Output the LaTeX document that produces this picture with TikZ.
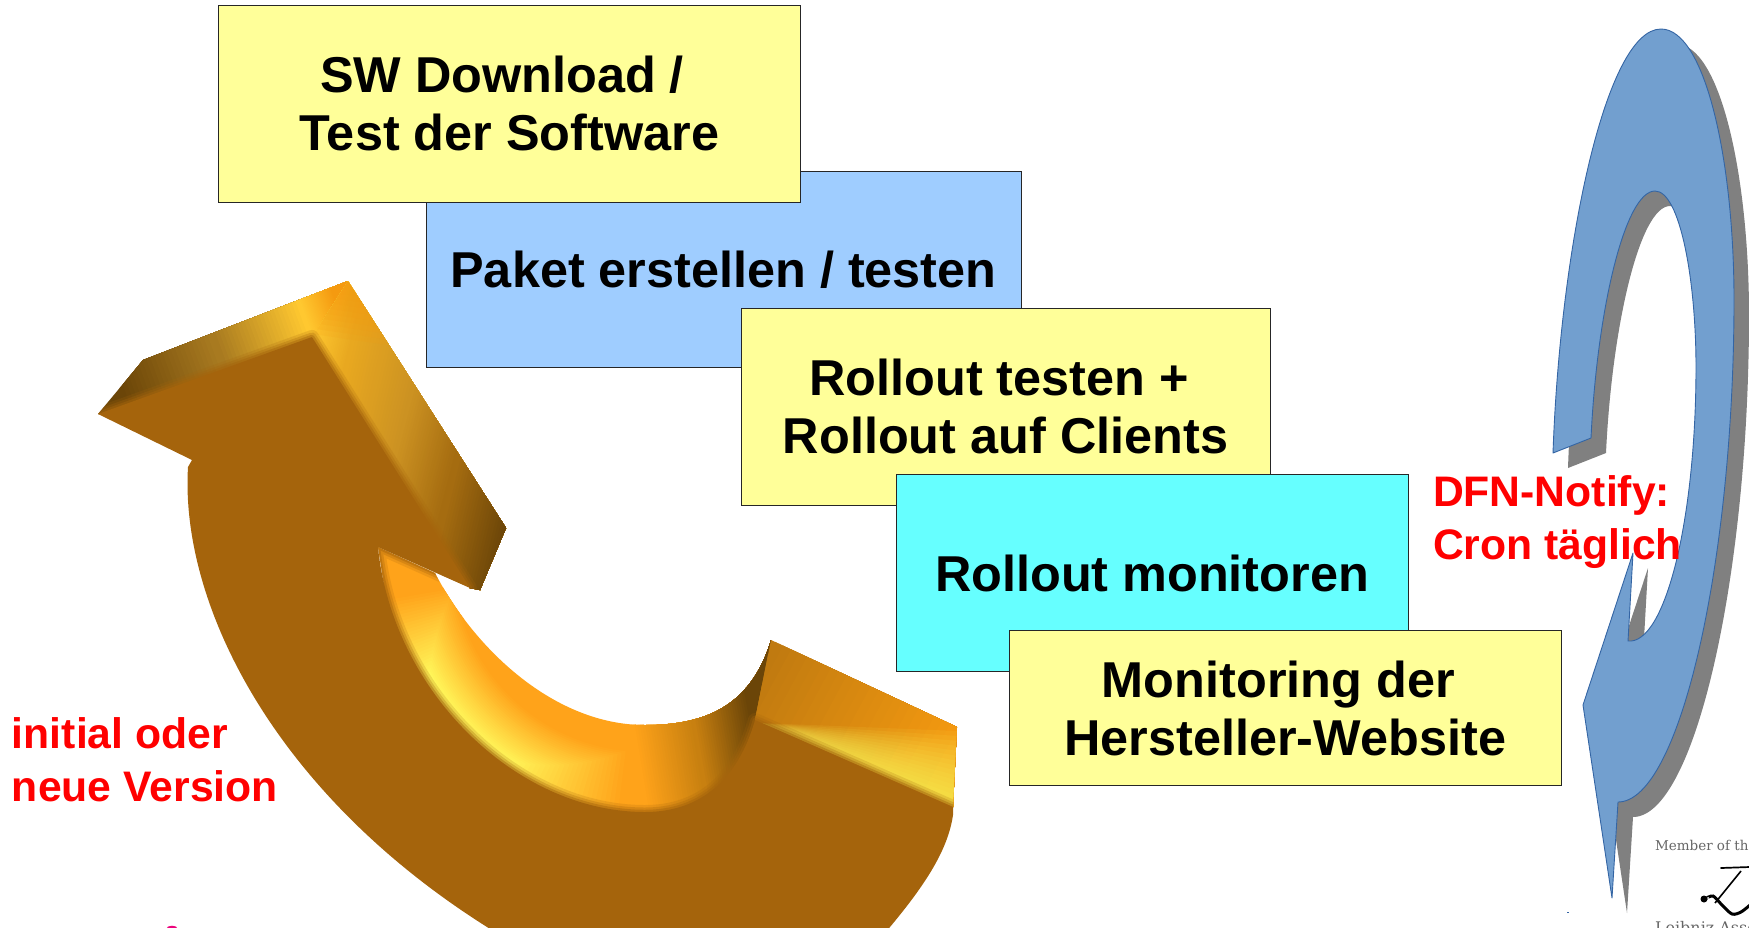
\documentclass[tikz,border=0pt]{standalone}
\usepackage{fontspec}
\setmainfont{Liberation Sans}
\newfontfamily\logoserif{DejaVu Serif}
\definecolor{boxyellow}{HTML}{FFFF99}
\definecolor{boxblue}{HTML}{9FCDFF}
\definecolor{boxcyan}{HTML}{66FFFF}
\definecolor{bluefill}{HTML}{729FCF}
\definecolor{blueline}{HTML}{3465A4}
\definecolor{shadowgrey}{HTML}{808080}
\definecolor{frontbrown}{HTML}{A5640C}
\definecolor{darkbrown}{HTML}{6B4508}
\definecolor{midbrown}{HTML}{A87A20}
\definecolor{gold}{HTML}{FFC830}
\definecolor{orangeA}{HTML}{F59A10}
\definecolor{orangeB}{HTML}{FFA31A}
\definecolor{orangeC}{HTML}{C88010}
\definecolor{yellowhi}{HTML}{FFFF60}
\definecolor{goldB}{HTML}{E8A820}
\definecolor{goldC}{HTML}{CC9222}
\definecolor{brownB}{HTML}{A56C10}
\definecolor{brownC}{HTML}{C07A10}
\definecolor{redtext}{HTML}{FF0000}
\newcommand\boxlines[2]{\raisebox{#1}[0pt][0pt]{\fontsize{50.4}{58}\selectfont\bfseries\begin{tabular}[t]{@{}c@{}}#2\end{tabular}}}
\newcommand\redlines[1]{\raisebox{0pt}[0pt][0pt]{\fontsize{42.7}{53}\selectfont\bfseries\color{redtext}\begin{tabular}[t]{@{}l@{}}#1\end{tabular}}}
% half-plane painted gradient from point a to point b
\newcommand\gradband[6]{%
  \pgfmathsetmacro\gdx{#3-#1}\pgfmathsetmacro\gdy{#4-#2}
  \pgfmathsetmacro\gdl{veclen(\gdx,\gdy)}
  \pgfmathsetmacro\gux{\gdx/\gdl}\pgfmathsetmacro\guy{\gdy/\gdl}
  \foreach \i in {0,...,23}{
    \pgfmathsetmacro\gt{\i/24}
    \pgfmathsetmacro\gm{100*\i/23}
    \pgfmathsetmacro\gpx{#1+\gt*\gdx}
    \pgfmathsetmacro\gpy{#2+\gt*\gdy}
    \colorlet{gc}{#6!\gm!#5}
    \fill[gc] ({\gpx-900*\guy},{\gpy+900*\gux}) -- ({\gpx+900*\guy},{\gpy-900*\gux})
      -- ({\gpx+900*\guy+900*\gux},{\gpy-900*\gux+900*\guy})
      -- ({\gpx-900*\guy+900*\gux},{\gpy+900*\gux+900*\guy}) -- cycle;
  }}
\def\bluepath{(1553,453) .. controls (1560,250) and (1605,29) .. (1661,29) .. controls (1705,29) and (1734,160) .. (1734,300) .. controls (1734,560) and (1680,802) .. (1618,802) -- (1612,898) -- (1583,705) -- (1633,553) -- (1628,641) .. controls (1665,645) and (1696,520) .. (1696,367) .. controls (1696,280) and (1680,191) .. (1655,191) .. controls (1625,191) and (1597,310) .. (1591,438) -- cycle}
\def\frontpath{(98,414) -- (312,337) -- (470,588) -- (378,547) .. controls (392,690) and (515,812) .. (645,812) .. controls (700,812) and (738,780) .. (755,720) -- (953,807) -- (953,815) .. controls (948,850) and (925,885) .. (890,927) -- (860,965) -- (540,965) -- (487,927) .. controls (270,790) and (180,600) .. (188,467) -- (192,460) -- cycle}
\def\headtop{(98,414) -- (143,360) -- (348,281) -- (312,337) -- (200,420) -- cycle}
\def\headright{(312,337) -- (348,281) -- (506,528) -- (480,590) -- (470,588) -- (400,500) -- cycle}
\def\innerface{(378,547) -- (435,573) .. controls (475,650) and (555,725) .. (645,725) .. controls (700,725) and (750,710) .. (771,640) -- (755,720) -- (745,790) -- (640,830) -- (560,810) -- (400,690) -- cycle}
\def\endtop{(755,720) -- (771,640) -- (957,727) -- (953,807) -- (800,760) -- cycle}
\tikzset{
  stepbox/.style={draw=black!85,line width=.9pt,rectangle,inner sep=0pt,outer sep=0pt},
  redlabel/.style={anchor=west,inner sep=0pt,outer sep=0pt},
  logotext/.style={anchor=base west,inner sep=0pt,outer sep=0pt,text=black!60},
}
\begin{document}
\begin{tikzpicture}[x=1pt,y=-1pt]
\useasboundingbox (0,0) rectangle (1749,927);
\clip (0,0) rectangle (1749,927);

% blue curved arrow with shadow
\begin{scope}[shift={(15,15)}]
  \fill[shadowgrey] \bluepath;
\end{scope}
\fill[bluefill] \bluepath;
\draw[blueline,line width=.9pt,line join=round] \bluepath;

% boxes
\node[stepbox,fill=boxblue,minimum width=595pt,minimum height=196.5pt] (paket) at (723.5,269.5) {\boxlines{-17.5pt}{Paket erstellen / testen}};
\node[stepbox,fill=boxyellow,minimum width=582pt,minimum height=197pt] (sw) at (509.5,103.5) {\boxlines{11.5pt}{SW Download /\hspace*{15pt}\\Test der Software}};
\node[stepbox,fill=boxyellow,minimum width=529pt,minimum height=197pt] (rtest) at (1005.5,406.5) {\boxlines{11pt}{Rollout testen +\hspace*{13pt}\\Rollout auf Clients}};
\node[stepbox,fill=boxcyan,minimum width=512pt,minimum height=197pt] (rmon) at (1152,573) {\boxlines{-18pt}{Rollout monitoren}};
\node[stepbox,fill=boxyellow,minimum width=552.5pt,minimum height=155pt] (mon) at (1285.25,707.5) {\boxlines{10pt}{Monitoring der\hspace*{14pt}\\Hersteller-Website}};

% orange 3D arrow: inner curved face
\begin{scope}
  \clip \innerface;
  \fill[orangeB] (370,540) rectangle (780,840);
  \gradband{640}{770}{700}{760}{orangeB}{orangeC}
  \gradband{700}{760}{757}{750}{orangeC}{darkbrown}
  \foreach \k in {0,...,29}{
    \pgfmathsetmacro\hw{60-2*\k}
    \pgfmathsetmacro\tha{95+1.1*\k}
    \pgfmathsetmacro\thb{172-0.75*\k}
    \pgfmathsetmacro\pct{100*\k/29}
    \colorlet{hc}{yellowhi!\pct!orangeB}
    \draw[hc,line width=2*\hw pt] plot[domain=\tha:\thb,samples=24,smooth] ({645+250*cos(\x)},{560+250*sin(\x)});
  }
\end{scope}
% head top face
\begin{scope}
  \clip \headtop;
  \fill[darkbrown] (90,270) rectangle (360,430);
  \gradband{120}{390}{219}{354}{darkbrown}{midbrown}
  \gradband{219}{354}{307}{322}{midbrown}{gold}
  \gradband{307}{322}{340}{310}{gold}{orangeA}
\end{scope}
% head right face
\begin{scope}
  \clip \headright;
  \fill[gold] (300,270) rectangle (520,600);
  \gradband{312}{337}{351}{347}{gold}{goldB}
  \gradband{351}{347}{419}{363}{goldB}{goldC}
  \gradband{419}{363}{477}{378}{goldC}{brownB}
  \gradband{477}{378}{540}{393}{brownB}{darkbrown}
  \foreach \k in {0,...,9}{
    \pgfmathsetmacro\ka{0.26-0.025*\k}
    \pgfmathsetmacro\kb{0.95-0.09*\k}
    \fill[orangeA,opacity=.14] (348,281) -- ({348+158*\ka},{281+247*\ka}) -- ({348-36*\kb},{281+56*\kb}) -- cycle;
  }
\end{scope}
% right end top face
\begin{scope}
  \clip \endtop;
  \fill[brownC] (750,630) rectangle (960,810);
  \gradband{760}{670}{945}{770}{brownC}{orangeA}
  \foreach \k in {0,...,15}{
    \pgfmathsetmacro\hk{78-5*\k}
    \fill[yellowhi,opacity=.08] (762,723) -- (958,809) -- ({958},{809-\hk}) -- cycle;
  }
\end{scope}
% soft transition from side faces to the front face
\begin{scope}
  \clip \headtop \headright \innerface \endtop;
  \draw[frontbrown,opacity=.2,line width=14pt,line join=round] \frontpath;
  \draw[frontbrown,opacity=.3,line width=9pt,line join=round] \frontpath;
  \draw[frontbrown,opacity=.45,line width=4.5pt,line join=round] \frontpath;
\end{scope}
\fill[frontbrown] \frontpath;

% red labels
\node[redlabel] (version) at (12,748) {\redlines{initial oder\\neue Version}};
\node[redlabel] (dfn) at (1433,506) {\redlines{DFN-Notify:\\Cron täglich}};

% logo fragment
\node[logotext,font=\logoserif\fontsize{13.5}{15}\selectfont] (member) at (1655,850) {Member of the};
\node[logotext,font=\logoserif\fontsize{16}{18}\selectfont] (leibniz) at (1655,933) {Leibniz Association};
\draw[black,line width=1.7pt,line cap=round] (1721,868) -- (1750,867);
\draw[black,line width=1.6pt] (1741,871) -- (1715,903);
\draw[black,line width=3pt,line cap=round] plot[smooth] coordinates{(1705,899)(1713,896)(1722,905)(1732,914)(1741,912)(1750,905)};
\fill[black] (1704,899) circle (3.5);
\fill[white] (1708,898) circle (1);
% stray marks at the cut edges
\fill[magenta!85!red] (172,928.5) ellipse (5.5 and 2.8);
\fill[blueline] (1567,911.5) rectangle (1568.5,912.5);
\end{tikzpicture}
\end{document}
